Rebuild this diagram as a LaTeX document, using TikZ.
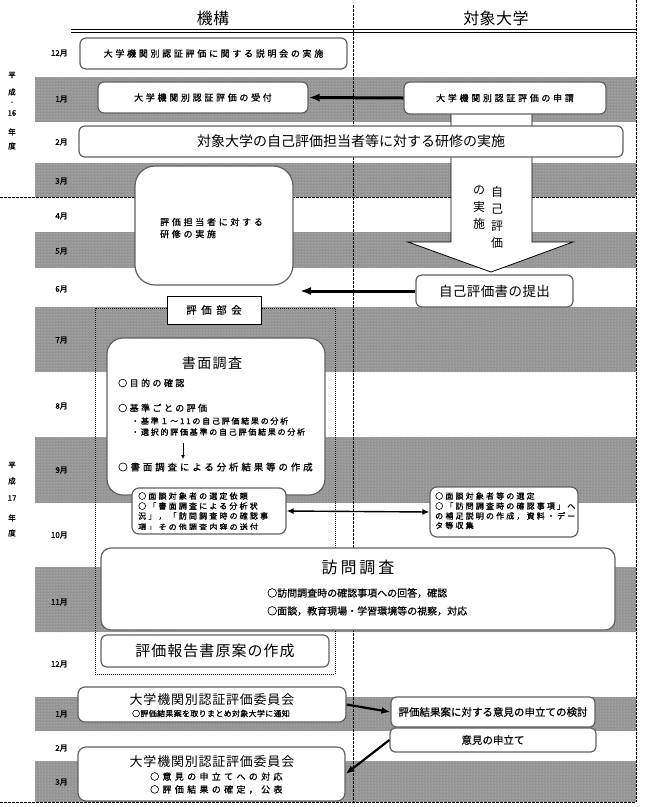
\documentclass[tikz,border=0pt]{standalone}
\usepackage{fontspec}
\setmainfont{Noto Sans CJK JP}
\usetikzlibrary{arrows.meta,patterns}
\newcommand\F[2]{\fontsize{#1}{#1}\selectfont\addfontfeature{LetterSpace=#2}}
\newcommand\FB[3]{\fontsize{#1}{#1}\selectfont\addfontfeatures{LetterSpace=#2,FakeBold=#3}}
\tikzset{
  bandfill/.style={fill=black!42},
  banddots/.style={pattern=dots, pattern color=black!15},
  rbox/.style={draw=black!62, line width=1.2pt, fill=white, rounded corners=#1, inner sep=0pt},
  rbox/.default=6pt,
  sbox/.style={draw=black, line width=0.8pt, fill=white, inner sep=0pt},
  txt/.style={inner sep=0pt},
  dashln/.style={line width=0.7pt, dash pattern=on 2.5pt off 1.5pt},
  grpln/.style={line width=0.6pt, dash pattern=on 1pt off 1pt},
  bigarrow/.style={line width=3pt, -{Latex[length=11pt,width=8pt]}},
  midarrow/.style={line width=2.2pt, -{Latex[length=9pt,width=7pt]}},
  dblarrow/.style={line width=1.4pt, {Latex[length=7pt,width=6pt]}-{Latex[length=7pt,width=6pt]}},
  smallarrow/.style={line width=0.8pt, -{Latex[length=4pt,width=4pt]}},
  monthlbl/.style={txt, anchor=east, font=\FB{8}{0}{1.5}},
  yearlbl/.style={txt, font=\FB{7.5}{0}{1.5}},
}
\begin{document}
\begin{tikzpicture}[x=1pt,y=-1pt]
\useasboundingbox (0,0) rectangle (646,807);
\fill[white] (0,0) rectangle (646,807);
% bands
\foreach \a/\b in {77/122,163/197,232/268,307/372,437/503,567/632,697/731,761/802}{
  \fill[bandfill] (35,\a) rectangle (636,\b);
  \fill[banddots] (35,\a) rectangle (636,\b);
}
% lines
\draw[dashln] (353,5) -- (353,802);
\draw[dashln] (636,0) -- (636,802);
\draw[dashln] (0,197) -- (636,197);
\draw[dashln] (0,802) -- (636,802);
\draw[grpln] (95,308) rectangle (335,674);
\draw[line width=0.9pt] (71,29) -- (636,29);
\draw[line width=0.9pt] (71,32.5) -- (636,32.5);
% header
\node[txt, font=\F{16}{3}] (hkiko) at (213,18) {機構};
\node[txt, font=\F{16}{3}] (htaisho) at (496,18) {対象大学};
% year labels
\node[yearlbl] (y16a) at (12,75) {平};
\node[yearlbl] (y16b) at (12,92) {成};
\node[yearlbl] (y16c) at (12,103) {-};
\node[yearlbl] (y16d) at (12,113) {16};
\node[yearlbl] (y16e) at (12,132) {年};
\node[yearlbl] (y16f) at (12,146) {度};
\node[yearlbl] (y17a) at (12,465) {平};
\node[yearlbl] (y17b) at (12,481) {成};
\node[yearlbl] (y17c) at (12,498) {17};
\node[yearlbl] (y17d) at (12,518) {年};
\node[yearlbl] (y17e) at (12,533) {度};
% month labels
\node[monthlbl] (m12a) at (68,53) {12月};
\node[monthlbl] (m1a) at (68,99) {1月};
\node[monthlbl] (m2a) at (68,142) {2月};
\node[monthlbl] (m3a) at (68,181) {3月};
\node[monthlbl] (m4) at (68,216) {4月};
\node[monthlbl] (m5) at (68,251) {5月};
\node[monthlbl] (m6) at (68,289) {6月};
\node[monthlbl] (m7) at (68,340) {7月};
\node[monthlbl] (m8) at (68,406) {8月};
\node[monthlbl] (m9) at (68,470) {9月};
\node[monthlbl] (m10) at (68,535) {10月};
\node[monthlbl] (m11) at (68,602) {11月};
\node[monthlbl] (m12b) at (68,664) {12月};
\node[monthlbl] (m1b) at (68,714) {1月};
\node[monthlbl] (m2b) at (68,748) {2月};
\node[monthlbl] (m3b) at (68,782) {3月};
% block arrow (self evaluation)
\fill[white] (451,110) -- (451,242) -- (408,242) -- (491,272) -- (573,242) -- (532,242) -- (532,110) -- cycle;
\draw[line width=0.8pt] (451,110) -- (451,242) -- (408,242) -- (491,272) -- (573,242) -- (532,242) -- (532,110);
\node[txt, anchor=north, align=center, font=\fontsize{12}{17}\selectfont] (vtA) at (497,186) {自\\己\\評\\価};
\node[txt, anchor=north, align=center, font=\fontsize{12}{17}\selectfont] (vtB) at (479,186) {の\\実\\施};
% boxes
\node[rbox, minimum width=267pt, minimum height=31pt, font=\FB{9}{30}{0.8}] (setsumei) at (213.5,53.5) {大学機関別認証評価に関する説明会の実施};
\node[rbox, minimum width=210pt, minimum height=31pt, font=\FB{9}{30}{0.8}] (uketsuke) at (203,97.5) {大学機関別認証評価の受付};
\node[rbox, minimum width=202pt, minimum height=32pt, font=\FB{9}{30}{0.8}] (shinsei) at (505,98) {大学機関別認証評価の申請};
\node[rbox, minimum width=544pt, minimum height=31pt, font=\F{14}{0}] (kenshu) at (351,141.5) {対象大学の自己評価担当者等に対する研修の実施};
\node[rbox=20pt, minimum width=158pt, minimum height=119pt] (tanto) at (214,225.5) {};
\node[txt, anchor=west, font=\FB{9}{30}{0.8}] (tantoA) at (160,222) {評価担当者に対する};
\node[txt, anchor=west, font=\FB{9}{30}{0.8}] (tantoB) at (160,234) {研修の実施};
\node[rbox, minimum width=157pt, minimum height=32pt, font=\F{13.5}{3}] (teishutsu) at (494.5,291) {自己評価書の提出};
\node[sbox, minimum width=94pt, minimum height=28pt, font=\FB{10.5}{43}{0.5}] (bukai) at (214,310) {評価部会};
% shomen chosa
\node[rbox=16pt, minimum width=218pt, minimum height=157pt] (shomen) at (216,416.5) {};
\node[txt, font=\F{14}{10}] (shomenT) at (212,363) {書面調査};
\node[txt, anchor=west, font=\FB{9}{27}{0.8}] (shA) at (118,383) {○目的の確認};
\node[txt, anchor=west, font=\FB{9}{27}{0.8}] (shB) at (118,408) {○基準ごとの評価};
\node[txt, anchor=west, font=\FB{8}{22}{1}] (shC) at (131,421) {・基準１～11の自己評価結果の分析};
\node[txt, anchor=west, font=\FB{8}{22}{1}] (shD) at (131,432) {・選択的評価基準の自己評価結果の分析};
\node[txt, anchor=west, font=\FB{9.5}{30}{0.8}] (shE) at (118,467) {○書面調査による分析結果等の作成};
\coordinate (shArrA) at (183,443);
\coordinate (shArrB) at (183,459);
\draw[smallarrow] (shArrA) -- (shArrB);
% irai / sentei
\node[rbox=7pt, minimum width=154pt, minimum height=46pt] (irai) at (209,511) {};
\begin{scope}
\clip (132,488) rectangle (286,529.5);
\node[txt, anchor=west, font=\FB{8}{27}{1}] (iraiA) at (138,496) {○面談対象者の選定依頼};
\node[txt, anchor=west, font=\FB{8}{27}{1}] (iraiB) at (138,506) {○「書面調査による分析状};
\node[txt, anchor=west, font=\FB{8}{27}{1}] (iraiC) at (138,516) {況」，「訪問調査時の確認事};
\node[txt, anchor=west, font=\FB{8}{27}{1}] (iraiD) at (138,527) {項」その他調査内容の送付};
\end{scope}
\node[rbox=7pt, minimum width=148pt, minimum height=50pt] (sentei) at (504,512) {};
\node[txt, anchor=west, font=\FB{8}{27}{1}] (senA) at (435,496) {○面談対象者等の選定};
\node[txt, anchor=west, font=\FB{8}{27}{1}] (senB) at (435,506) {○「訪問調査時の確認事項」へ};
\node[txt, anchor=west, font=\FB{8}{27}{1}] (senC) at (435,516) {の補足説明の作成，資料・デー};
\node[txt, anchor=west, font=\FB{8}{27}{1}] (senD) at (435,525.5) {タ等収集};
% homon
\node[rbox=10pt, minimum width=514pt, minimum height=82pt] (homon) at (358,589) {};
\node[txt, font=\F{16}{18}] (homonT) at (358,567) {訪問調査};
\node[txt, anchor=west, font=\FB{10}{0}{0.5}] (hoA) at (267,593) {○訪問調査時の確認事項への回答，確認};
\node[txt, anchor=west, font=\FB{10}{0}{0.5}] (hoB) at (267,611) {○面談，教育現場・学習環境等の視察，対応};
\node[rbox, minimum width=228pt, minimum height=32pt, font=\F{15}{7}] (genan) at (215,651) {評価報告書原案の作成};
% iinkai
\node[rbox=7pt, minimum width=268pt, minimum height=35pt] (iinkaiA) at (212,704.5) {};
\node[txt, font=\F{13}{6}] (iinkaiAT) at (212,700) {大学機関別認証評価委員会};
\node[txt, font=\FB{8}{4}{1}] (iinkaiAS) at (211,713.5) {○評価結果案を取りまとめ対象大学に通知};
\node[rbox=5pt, minimum width=204pt, minimum height=30pt, font=\FB{10.5}{0}{0.5}] (kento) at (493,712) {評価結果案に対する意見の申立ての検討};
\node[rbox=5pt, minimum width=206pt, minimum height=24pt, font=\FB{10.5}{0}{0.5}] (moushi) at (493,740) {意見の申立て};
\node[rbox=8pt, minimum width=267pt, minimum height=54pt] (iinkaiB) at (211.5,774) {};
\node[txt, font=\F{13}{6}] (iinkaiBT) at (212,762) {大学機関別認証評価委員会};
\node[txt, anchor=west, font=\FB{9}{37}{0.8}] (iinkaiBA) at (150,776.5) {○意見の申立てへの対応};
\node[txt, anchor=west, font=\FB{9}{37}{0.8}] (iinkaiBB) at (150,789.5) {○評価結果の確定，公表};
% connectors
\draw[bigarrow] (shinsei.west) -- (uketsuke.east);
\coordinate (teiEnd) at (300,291);
\draw[bigarrow] (teishutsu.west) -- (teiEnd);
\draw[dblarrow] (irai.east) -- (sentei.west);
\draw[midarrow] (iinkaiA.east) -- (kento.west);
\draw[midarrow] (moushi.west) -- (iinkaiB.east);
\end{tikzpicture}
\end{document}
